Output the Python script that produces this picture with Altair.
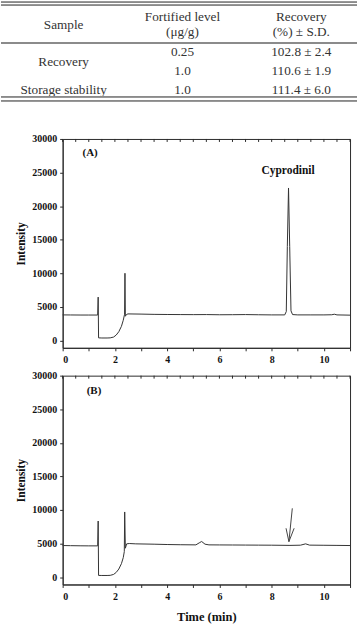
import altair as alt
import pandas as pd

# ---------------- table data ----------------
header_top = ["Sample", "Fortified level", "Recovery"]
header_bottom = ["", "(μg/g)", "(%) ± S.D."]
sample_labels = ["Recovery", "Storage stability"]
sample_label_rows = [1.5, 3]
levels = ["0.25", "1.0", "1.0"]
recoveries = ["102.8 ± 2.4", "110.6 ± 1.9", "111.4 ± 6.0"]
data_rows = [1, 2, 3]

# ---------------- chromatogram data ----------------
time_a = [0, 0.3, 0.7, 1.0, 1.34, 1.36, 1.375, 1.5, 1.7, 1.82, 1.95, 2.05, 2.15, 2.25, 2.32,
          2.37, 2.385, 2.40, 2.44, 2.5, 3.0, 3.5, 4.0, 4.5, 5.0, 5.5, 6.0, 6.5, 7.0, 7.5, 8.0,
          8.5, 8.56, 8.6, 8.645, 8.69, 8.74, 8.8, 9.0, 9.5, 10.0, 10.3, 10.4, 10.5, 11.0]
int_a = [3800, 3790, 3780, 3780, 3780, 6450, 380, 360, 360, 380, 500, 800, 1300, 2100, 3000,
         3900, 10000, 3600, 3850, 3950, 3920, 3880, 3860, 3850, 3840, 3850, 3820, 3830, 3850, 3820, 3800,
         3800, 4300, 14000, 22700, 14000, 4400, 3850, 3800, 3800, 3800, 3820, 3900, 3800, 3760]

time_b = [0, 0.3, 0.7, 1.0, 1.34, 1.36, 1.375, 1.5, 1.7, 1.82, 1.95, 2.05, 2.15, 2.25, 2.32,
          2.36, 2.375, 2.40, 2.45, 2.55, 2.8, 3.5, 4.0, 4.5, 5.1, 5.25, 5.32, 5.45, 5.6, 6.0, 6.5,
          7.0, 7.5, 8.0, 8.7, 9.1, 9.3, 9.45, 10.0, 10.5, 11.0]
int_b = [4700, 4680, 4660, 4650, 4650, 8350, 250, 240, 240, 260, 400, 700, 1200, 2000, 2900,
         3800, 9700, 4300, 4950, 5000, 4950, 4900, 4850, 4820, 4800, 5150, 5300, 4900, 4800, 4790, 4780,
         4770, 4760, 4750, 4720, 4750, 4950, 4760, 4740, 4720, 4700]

# arrow in panel B (time, intensity) : shaft and head
arrow_time = [8.79, 8.66, 8.55, 8.66, 8.86]
arrow_int = [10240, 5280, 7270, 5280, 7270]
arrow_part = ["shaft", "shaft", "head", "head", "head"]
arrow_order = [0, 1, 0, 1, 2]

x_ticks = [i * 0.5 for i in range(23)]
y_ticks = [0, 5000, 10000, 15000, 20000, 25000, 30000]

SERIF = "Liberation Serif"
INK = "#2a2a2a"
TFONT = 13.3

# ---------------- table chart ----------------
h1_df = pd.DataFrame({"col": [0, 1, 2], "row": [0, 0, 0], "txt": header_top})
h2_df = pd.DataFrame({"col": [0, 1, 2], "row": [0, 0, 0], "txt": header_bottom})
cells = []
for r, lv, rc in zip(data_rows, levels, recoveries):
    cells.append({"col": 1, "row": r, "txt": lv})
    cells.append({"col": 2, "row": r, "txt": rc})
for r, s in zip(sample_label_rows, sample_labels):
    cells.append({"col": 0, "row": r, "txt": s})
cell_df = pd.DataFrame(cells)

tx = alt.X("col:Q", scale=alt.Scale(domain=[0, 2], range=[1, 240]), axis=None)
ty = alt.Y("row:Q", scale=alt.Scale(domain=[1, 3], range=[53, 91]), axis=None)

h_sample = alt.Chart(h1_df).transform_filter("datum.col == 0").mark_text(
    font=SERIF, fontSize=TFONT, color="#333333", baseline="middle", dy=-9
).encode(x=tx, y=ty, text="txt:N")
h_top = alt.Chart(h1_df).transform_filter("datum.col > 0").mark_text(
    font=SERIF, fontSize=TFONT, color="#333333", baseline="middle", dy=-17
).encode(x=tx, y=ty, text="txt:N")
h_bot = alt.Chart(h2_df).transform_filter("datum.col > 0").mark_text(
    font=SERIF, fontSize=TFONT, color="#333333", baseline="middle", dy=-2
).encode(x=tx, y=ty, text="txt:N")
body = alt.Chart(cell_df).mark_text(
    font=SERIF, fontSize=TFONT, color="#333333", baseline="middle"
).encode(x=tx, y=ty, text="txt:N")

rule_layers = []
for yy in [2.5, 5.5, 43.5, 97.5, 101.5]:
    rule_layers.append(
        alt.Chart(h1_df).mark_rule(color="#8a8a8a", strokeWidth=1.4).encode(
            x=alt.value(-62), x2=alt.value(296), y=alt.value(yy)
        )
    )
spacer = alt.Chart(h1_df).mark_rule(opacity=0).encode(
    x=alt.value(0), x2=alt.value(10), y=alt.value(130)
)
table = alt.layer(h_sample, h_top, h_bot, body, *rule_layers, spacer).properties(
    width=289, height=130, view=alt.ViewBackground(stroke="transparent", strokeWidth=0)
)


def panel(times, ints, tag, tag_pos, xtitle, extra):
    df = pd.DataFrame({"t": times, "i": ints})
    xs = alt.Scale(domain=[0, 11], nice=False, zero=False)
    ys = alt.Scale(domain=[-1100, 30000], nice=False, zero=False)
    x_axis = alt.Axis(
        values=x_ticks, format="d", labelExpr="datum.value % 2 == 0 ? datum.label : ''",
        grid=False, tickSize=3, labelPadding=4, domainColor=INK, tickColor=INK,
        labelFont=SERIF, labelFontWeight="bold", labelFontSize=10, labelColor="#111",
        labelOverlap=False,
        title=xtitle, titleFont=SERIF, titleFontWeight="bold", titleFontSize=12.5,
        titleColor="#111", titlePadding=9,
    )
    y_axis = alt.Axis(
        values=y_ticks, format="d", grid=False, tickSize=3, labelPadding=3,
        domainColor=INK, tickColor=INK, labelOverlap=False,
        labelFont=SERIF, labelFontWeight="bold", labelFontSize=10, labelColor="#111",
        title="Intensity", titleFont=SERIF, titleFontWeight="bold", titleFontSize=11.5,
        titleColor="#111", titlePadding=5,
    )
    X = lambda: alt.X("t:Q", scale=xs, axis=x_axis)
    Y = lambda: alt.Y("i:Q", scale=ys, axis=y_axis)
    line = alt.Chart(df).mark_line(color="#333333", strokeWidth=1).encode(
        x=X(), y=Y(), order="t:Q",
    )
    top_ticks = alt.Chart(pd.DataFrame({"t": x_ticks})).mark_rule(color=INK).encode(
        x=X(), y=alt.value(0), y2=alt.value(3)
    )
    tag_df = pd.DataFrame({"t": [tag_pos[0]], "i": [tag_pos[1]], "txt": [tag]})
    tag_txt = alt.Chart(tag_df).mark_text(
        font=SERIF, fontWeight="bold", fontSize=11, color="#111"
    ).encode(x=X(), y=Y(), text="txt:N")
    layers = [line, top_ticks, tag_txt] + [e(X, Y) for e in extra]
    return alt.layer(*layers).properties(
        width=289, height=210, view=alt.ViewBackground(stroke=INK, strokeWidth=1)
    )


def cyp_label(X, Y):
    d = pd.DataFrame({"t": [8.63], "i": [25200], "txt": ["Cyprodinil"]})
    return alt.Chart(d).mark_text(
        font=SERIF, fontWeight="bold", fontSize=11.5, color="#111"
    ).encode(x=X(), y=Y(), text="txt:N")


def arrow(X, Y):
    d = pd.DataFrame({"t": arrow_time, "i": arrow_int, "part": arrow_part, "o": arrow_order})
    return alt.Chart(d).mark_line(color="#444444", strokeWidth=1).encode(
        x=X(), y=Y(), detail="part:N", order="o:Q"
    )


panel_a = panel(time_a, int_a, "(A)", (1.05, 27850), "", [cyp_label])
panel_b = panel(time_b, int_b, "(B)", (1.2, 27640), "Time (min)", [arrow])

chart = alt.vconcat(table, panel_a, panel_b, spacing=4).properties(
    padding={"left": 0, "top": -2, "right": 0, "bottom": 0}, background="white"
)

chart.save("out.html", embed_options={"renderer": "svg", "actions": False})
